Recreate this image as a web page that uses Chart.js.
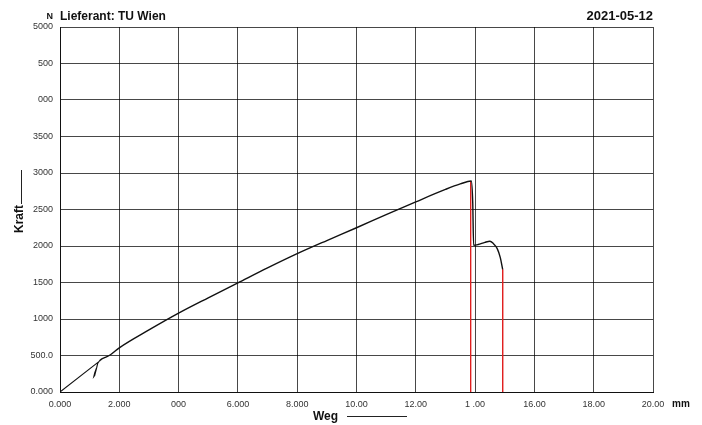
<!DOCTYPE html>
<html>
<head>
<meta charset="utf-8">
<script src="https://cdn.jsdelivr.net/npm/chart.js@4/dist/chart.umd.min.js"></script>
<style>
  html, body { margin: 0; padding: 0; background: #fff; }
  #wrap { width: 702px; height: 425px; }
</style>
</head>
<body>
<div id="wrap"><canvas id="kraftChart"></canvas></div>
<script>
// Kraft-Weg Diagramm (Lieferant: TU Wien)

// Anfahrbereich mit kleiner Schleife
const startWeg = [0, 1.28, 1.24, 1.17, 1.14, 1.17, 1.23, 1.27, 1.33];
const startKraft = [0, 405, 340, 260, 210, 225, 320, 390, 425];

// Hauptkurve bis Bruch
const wegMm = [1.33, 1.4, 1.5, 1.7, 2.0, 3, 4, 5, 6, 7, 8, 9, 10, 11, 12, 13, 13.5, 13.87, 13.92, 13.95, 14.1, 14.33, 14.5, 14.6, 14.75, 14.85, 14.93];
const kraftN = [425, 450, 470, 510, 605, 850, 1080, 1290, 1495, 1700, 1895, 2075, 2250, 2430, 2605, 2775, 2850, 2890, 2600, 2010, 2020, 2050, 2065, 2040, 1960, 1840, 1680];

const bruch1X = [13.85, 13.85];
const bruch1Y = [2890, 0];
const bruch2X = [14.93, 14.93];
const bruch2Y = [1680, 0];

const xTickLabels = ['0.000', '2.000', '000', '6.000', '8.000', '10.00', '12.00', '1 .00', '16.00', '18.00', '20.00'];
const yTickLabels = ['0.000', '500.0', '1000', '1500', '2000', '2500', '3000', '3500', '000', '500', '5000'];

const FONT = "'Liberation Sans', Arial, sans-serif";

function toPoints(xs, ys) {
    return xs.map((x, i) => ({ x: x, y: ys[i] }));
}

// header texts and axis titles with their little lines
const beschriftung = {
    id: 'beschriftung',
    afterDraw(chart) {
        const ctx = chart.ctx;
        const area = chart.chartArea;
        ctx.save();
        ctx.fillStyle = '#111';
        ctx.textBaseline = 'alphabetic';

        ctx.font = 'bold 9px ' + FONT;
        ctx.textAlign = 'right';
        ctx.fillText('N', 53, 19);

        ctx.font = 'bold 12px ' + FONT;
        ctx.textAlign = 'left';
        ctx.fillText('Lieferant: TU Wien', area.left, 20);
        ctx.font = 'bold 13px ' + FONT;
        ctx.textAlign = 'right';
        ctx.fillText('2021-05-12', area.right, 20);

        ctx.font = 'bold 10px ' + FONT;
        ctx.textAlign = 'left';
        ctx.textBaseline = 'middle';
        ctx.fillText('mm', 672, 404);

        ctx.font = 'bold 12px ' + FONT;
        ctx.fillText('Weg', 313, 417);
        ctx.strokeStyle = '#222';
        ctx.lineWidth = 1;
        ctx.beginPath();
        ctx.moveTo(347, 416.5);
        ctx.lineTo(407, 416.5);
        ctx.stroke();

        ctx.save();
        ctx.translate(20, 233);
        ctx.rotate(-Math.PI / 2);
        ctx.textAlign = 'left';
        ctx.fillText('Kraft', 0, 0);
        ctx.restore();
        ctx.beginPath();
        ctx.moveTo(21.5, 204);
        ctx.lineTo(21.5, 170);
        ctx.stroke();

        ctx.restore();
    }
};

new Chart(document.getElementById('kraftChart'), {
    type: 'scatter',
    data: {
        datasets: [
            {
                data: toPoints(startWeg, startKraft),
                showLine: true,
                borderColor: '#111',
                borderWidth: 1.1,
                pointRadius: 0,
                tension: 0
            },
            {
                data: toPoints(wegMm, kraftN),
                showLine: true,
                borderColor: '#111',
                borderWidth: 1.4,
                pointRadius: 0,
                cubicInterpolationMode: 'monotone'
            },
            {
                data: toPoints(bruch1X, bruch1Y),
                showLine: true,
                borderColor: '#e02020',
                borderWidth: 1,
                pointRadius: 0
            },
            {
                data: toPoints(bruch2X, bruch2Y),
                showLine: true,
                borderColor: '#e02020',
                borderWidth: 1,
                pointRadius: 0
            }
        ]
    },
    options: {
        responsive: true,
        maintainAspectRatio: false,
        animation: false,
        layout: {
            padding: { top: 27, right: 49, left: 0, bottom: 0 }
        },
        plugins: {
            legend: { display: false },
            title: { display: false },
            tooltip: { enabled: false }
        },
        scales: {
            x: {
                type: 'linear',
                min: 0,
                max: 20,
                afterFit: s => { s.height = 33; },
                border: { color: '#111', width: 1 },
                grid: { color: 'rgba(0,0,0,0.72)', drawTicks: false },
                ticks: {
                    stepSize: 2,
                    padding: 7,
                    color: '#333',
                    font: { family: FONT, size: 9 },
                    maxRotation: 0,
                    callback: v => xTickLabels[Math.round(v / 2)]
                }
            },
            y: {
                min: 0,
                max: 5000,
                afterFit: s => { s.width = 60; },
                border: { color: '#111', width: 1 },
                grid: { color: 'rgba(0,0,0,0.72)', drawTicks: false },
                ticks: {
                    stepSize: 500,
                    padding: 7,
                    color: '#333',
                    font: { family: FONT, size: 9 },
                    callback: v => yTickLabels[Math.round(v / 500)]
                }
            }
        }
    },
    plugins: [beschriftung]
});
</script>
</body>
</html>
